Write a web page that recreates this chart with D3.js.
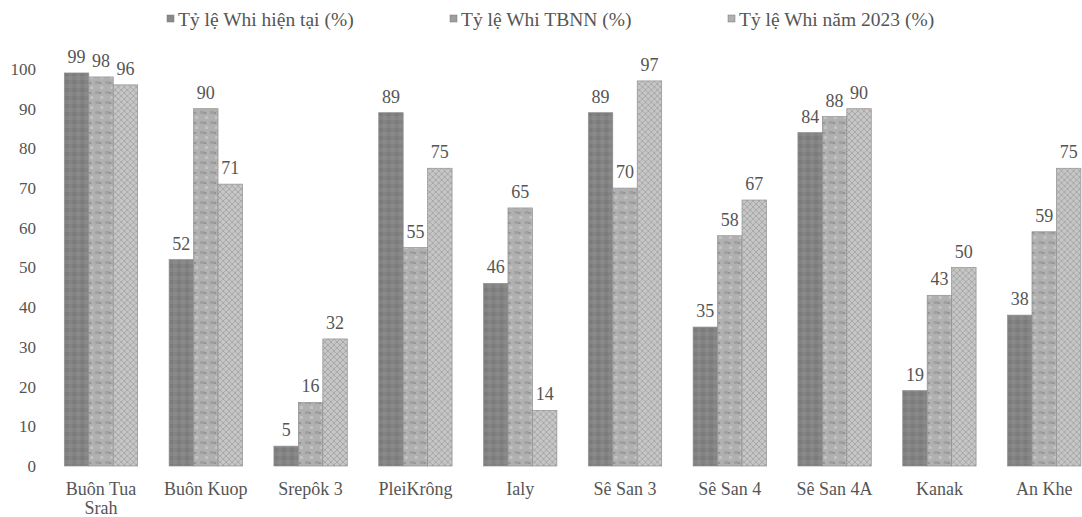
<!DOCTYPE html>
<html><head><meta charset="utf-8">
<script src="https://cdn.jsdelivr.net/npm/d3@7"></script>
<style>
html,body{margin:0;padding:0;background:#fff;font-family:"Liberation Serif",serif;}
text{font-family:"Liberation Serif";}
</style></head>
<body><svg id="c" width="1082" height="517" font-family="Liberation Serif"></svg>
<script>
const categories = ["Buôn Tua Srah","Buôn Kuop","Srepôk 3","PleiKrông","Ialy","Sê San 3","Sê San 4","Sê San 4A","Kanak","An Khe"];
const seriesNames = ["Tỷ lệ Whi hiện tại (%)","Tỷ lệ Whi TBNN (%)","Tỷ lệ Whi năm 2023 (%)"];
const current = [99,52,5,89,46,89,35,84,19,38];
const average = [98,90,16,55,65,70,58,88,43,59];
const year2023 = [96,71,32,75,14,97,67,90,50,75];
const yTicks = [0,10,20,30,40,50,60,70,80,90,100];

const series = [current, average, year2023];
const svg = d3.select("#c");
const defs = svg.append("defs");
const FONT = "Liberation Serif";
const TXT = "#555";

// textures
const p1 = defs.append("pattern").attr("id","p0").attr("patternUnits","userSpaceOnUse").attr("width",8).attr("height",8);
p1.append("rect").attr("width",8).attr("height",8).attr("fill","#838383");
p1.append("rect").attr("x",0).attr("y",0).attr("width",4).attr("height",4).attr("fill","#7b7b7b");
p1.append("rect").attr("x",4).attr("y",4).attr("width",4).attr("height",4).attr("fill","#8a8a8a");

const p2 = defs.append("pattern").attr("id","p1").attr("patternUnits","userSpaceOnUse").attr("width",10).attr("height",10);
p2.append("rect").attr("width",10).attr("height",10).attr("fill","#b0b0b0");
p2.append("rect").attr("x",1).attr("y",1).attr("width",4).attr("height",3).attr("fill","#a0a0a0");
p2.append("rect").attr("x",6).attr("y",6).attr("width",3).attr("height",3).attr("fill","#c2c2c2");
p2.append("rect").attr("x",5).attr("y",2).attr("width",2).attr("height",2).attr("fill","#939393");

const p3 = defs.append("pattern").attr("id","p2").attr("patternUnits","userSpaceOnUse").attr("width",6).attr("height",6);
p3.append("rect").attr("width",6).attr("height",6).attr("fill","#c6c6c6");
p3.append("path").attr("d","M0,3 L3,0 L6,3 L3,6 Z").attr("fill","none").attr("stroke","#a8a8a8").attr("stroke-width",1);

const fills = ["url(#p0)","url(#p1)","url(#p2)"];
const legendColors = ["#8a8a8a","#9e9e9e","#b0b0b0"];

const x0 = d3.scaleBand().domain(categories).range([48.6, 1096.6]).paddingInner(0.30).paddingOuter(0.15);
const x1 = d3.scaleBand().domain([0,1,2]).range([0, x0.bandwidth()]);
const y = d3.scaleLinear().domain([0,100]).range([466, 69]);

function serif(sel, size) {
  sel.attr("font-family", FONT).style("font-family", FONT).attr("font-size", size).style("font-size", size + "px").attr("fill", TXT);
}

// y axis labels
const yAxis = d3.axisLeft(y).tickValues(yTicks).tickSize(0).tickPadding(0);
const ga = svg.append("g").attr("transform","translate(36,0)").call(yAxis);
ga.attr("font-family", FONT).attr("font-size", 17);
ga.select(".domain").remove();
serif(ga.selectAll("text"), 17);

// bars
const groups = svg.append("g").selectAll("g").data(categories).join("g")
  .attr("transform", d => `translate(${x0(d)},0)`);
series.forEach((vals, si) => {
  groups.append("rect")
    .attr("x", x1(si))
    .attr("y", (d,i) => y(vals[i]))
    .attr("width", x1.bandwidth())
    .attr("height", (d,i) => y(0) - y(vals[i]))
    .attr("fill", fills[si])
    .attr("stroke", "#909090").attr("stroke-width", 0.7);
  const t = groups.append("text")
    .attr("x", x1(si) + x1.bandwidth()/2)
    .attr("y", (d,i) => y(vals[i]) - 10)
    .attr("text-anchor","middle")
    .text((d,i) => vals[i]);
  serif(t, 18);
});

// x axis labels
const xAxis = d3.axisBottom(x0).tickSize(0).tickPadding(0);
const gx = svg.append("g").attr("transform","translate(0,482)").call(xAxis);
gx.attr("font-family", FONT).attr("font-size", 18);
gx.select(".domain").remove();
serif(gx.selectAll("text"), 18);
gx.selectAll("text").each(function(d){
    const t = d3.select(this);
    if (d === "Buôn Tua Srah") {
      t.text(null);
      t.append("tspan").attr("x",0).attr("dy","0.71em").text("Buôn Tua");
      t.append("tspan").attr("x",0).attr("dy","1.08em").text("Srah");
      t.attr("dy",null);
    }
  });

// legend
const legendX = [167, 450, 728];
const lg = svg.append("g");
seriesNames.forEach((n, i) => {
  lg.append("rect").attr("x", legendX[i]).attr("y", 15).attr("width", 7).attr("height", 7)
    .attr("fill", legendColors[i]).attr("stroke","#777").attr("stroke-width",0.5);
  const t = lg.append("text").attr("x", legendX[i] + 11).attr("y", 26).text(n);
  serif(t, 19.5);
});
</script></body></html>
